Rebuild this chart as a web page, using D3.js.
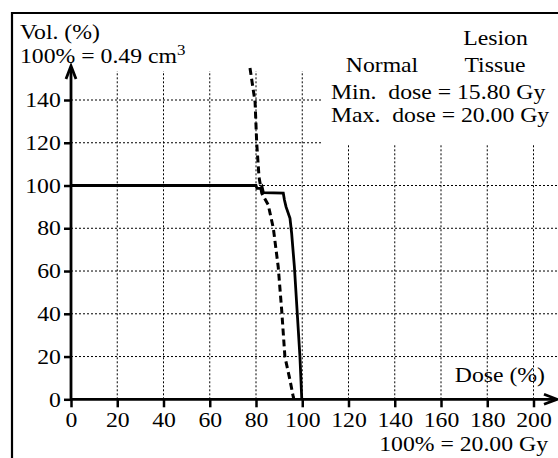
<!DOCTYPE html>
<html>
<head>
<meta charset="utf-8">
<script src="https://cdn.jsdelivr.net/npm/d3@7"></script>
<style>
  body { margin: 0; background: #fff; }
  svg { display: block; }
  text { font-family: "Liberation Serif", "Times New Roman", serif; fill: #000; }
</style>
</head>
<body>
<div id="chart"></div>
<script>
// dose-volume histogram, values
var xTicks = [0, 20, 40, 60, 80, 100, 120, 140, 160, 180, 200];
var yTicks = [0, 20, 40, 60, 80, 100, 120, 140];

// lesion (solid line)
var lesionDose = [0, 80, 80.4, 82, 82.6, 83.2, 91.8, 92.3, 93, 94.7, 95.4, 96.6, 99, 99.8];
var lesionVol  = [100, 100, 98.7, 98.7, 99.5, 96.7, 96.4, 93.2, 90, 84.7, 77.8, 62, 19.9, 0];

// normal tissue (dashed line)
var normalDose = [77.4, 79.6, 80.3, 81.3, 82.5, 85.3, 87.5, 89.6, 91.1, 92.5, 94.7, 96.1, 96.4];
var normalVol  = [155, 139, 120, 104, 96.4, 90.9, 80, 62, 41.8, 19.9, 9, 1.2, 0];

var W = 558, H = 458;
var FS = 21, SX = 1.13;   // the font in the picture is a bit wide

var svg = d3.select("#chart").append("svg")
	.attr("width", W)
	.attr("height", H);

var x = d3.scaleLinear().domain([0, 200]).range([71, 533.5]);
var y = d3.scaleLinear().domain([0, 140]).range([399.3, 100]);

// outer frame, only top and left edges show
svg.append("path")
	.attr("d", "M12," + H + "V13H" + W)
	.attr("fill", "none")
	.attr("stroke", "#000")
	.attr("stroke-width", 2.2);

// grid
var grid = svg.append("g")
	.attr("stroke", "#000")
	.attr("stroke-width", 1)
	.attr("stroke-dasharray", "2,2");

grid.selectAll("line.h")
	.data(yTicks.filter(function(d) { return d > 0; }))
	.enter().append("line")
	.attr("x1", x(0)).attr("x2", W)
	.attr("y1", function(d) { return y(d); })
	.attr("y2", function(d) { return y(d); });

grid.selectAll("line.v")
	.data(xTicks.filter(function(d) { return d > 0; }))
	.enter().append("line")
	.attr("x1", function(d) { return x(d); })
	.attr("x2", function(d) { return x(d); })
	.attr("y1", y(0)).attr("y2", 71);

// white box behind the legend text
svg.append("rect")
	.attr("x", 322).attr("y", 15)
	.attr("width", W - 322).attr("height", 129.5)
	.attr("fill", "#fff");

// curves
var line = d3.line()
	.x(function(d) { return x(d[0]); })
	.y(function(d) { return y(d[1]); });

svg.append("path")
	.datum(d3.zip(normalDose, normalVol))
	.attr("d", line)
	.attr("fill", "none")
	.attr("stroke", "#000")
	.attr("stroke-width", 3)
	.attr("stroke-dasharray", "7,4");

svg.append("path")
	.datum(d3.zip(lesionDose, lesionVol))
	.attr("d", line)
	.attr("fill", "none")
	.attr("stroke", "#000")
	.attr("stroke-width", 2.8);

// axes
var yAxis = d3.axisLeft(y)
	.tickValues(yTicks)
	.tickSize(7)
	.tickPadding(2)
	.tickSizeOuter(0);

var xAxis = d3.axisBottom(x)
	.tickValues(xTicks)
	.tickSize(8)
	.tickPadding(5)
	.tickSizeOuter(0);

var gy = svg.append("g").attr("transform", "translate(" + x(0) + ",0)").call(yAxis);
var gx = svg.append("g").attr("transform", "translate(0," + y(0) + ")").call(xAxis);

[gx, gy].forEach(function(g) {
	g.select(".domain").remove();
	g.selectAll(".tick line").attr("stroke", "#000").attr("stroke-width", 2.5);
	g.selectAll(".tick text")
		.style("font-family", '"Liberation Serif", serif')
		.style("font-size", FS + "px")
		.attr("fill", "#000")
		.attr("transform", "scale(" + SX + ",1)");
});

// axis lines with arrows
svg.append("line")
	.attr("x1", x(0)).attr("x2", x(0))
	.attr("y1", y(0) + 1).attr("y2", 67)
	.attr("stroke", "#000").attr("stroke-width", 2.8);
svg.append("path")
	.attr("d", "M" + (x(0) - 5) + ",79L" + x(0) + ",66L" + (x(0) + 5) + ",79")
	.attr("fill", "none").attr("stroke", "#000").attr("stroke-width", 2.8);

svg.append("line")
	.attr("x1", x(0) - 1).attr("x2", 556)
	.attr("y1", y(0)).attr("y2", y(0))
	.attr("stroke", "#000").attr("stroke-width", 2.8);
svg.append("path")
	.attr("d", "M544," + (y(0) - 5) + "L557," + y(0) + "L544," + (y(0) + 5))
	.attr("fill", "none").attr("stroke", "#000").attr("stroke-width", 2.8);

// labels
function label(px, py, str, anchor) {
	return svg.append("text")
		.attr("transform", "translate(" + px + "," + py + ") scale(" + SX + ",1)")
		.attr("text-anchor", anchor || "start")
		.style("font-size", FS + "px")
		.text(str);
}

label(20, 39, "Vol. (%)");
var unitY = label(20, 63, "100% = 0.49 cm");
unitY.append("tspan").attr("dy", -8).style("font-size", "15px").text("3");

label(545, 382, "Dose (%)", "end");
label(548, 451, "100% = 20.00 Gy", "end");

label(495.5, 45, "Lesion", "middle");
label(382, 72, "Normal", "middle");
label(495, 72, "Tissue", "middle");
label(331, 99, "Min.\u00a0 dose = 15.80 Gy");
label(331, 122, "Max.\u00a0 dose = 20.00 Gy");
</script>
</body>
</html>
